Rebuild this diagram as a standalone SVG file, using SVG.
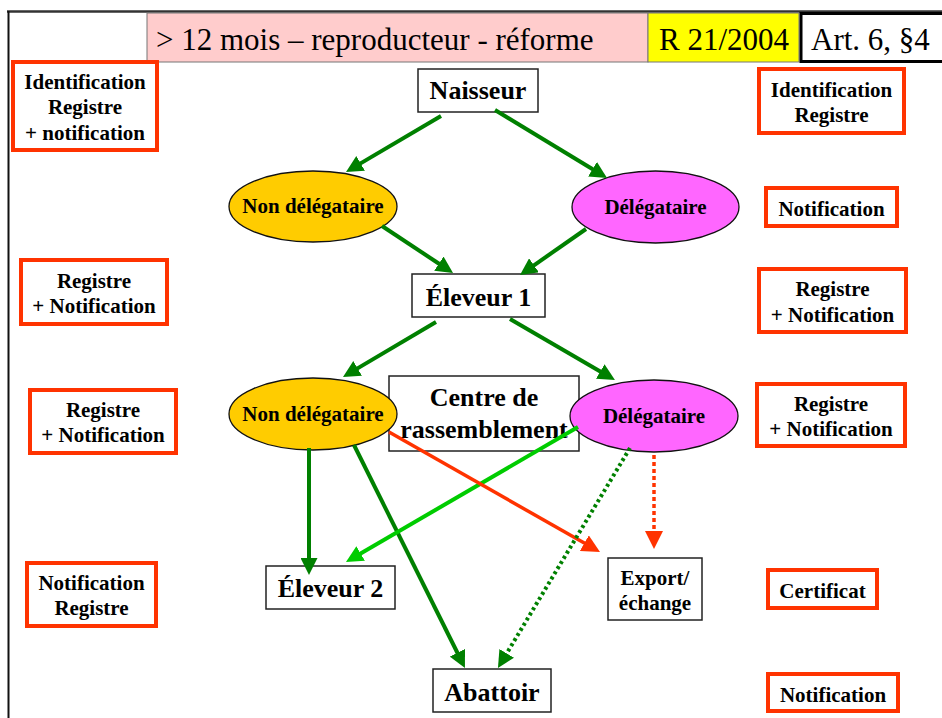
<svg xmlns="http://www.w3.org/2000/svg" width="942" height="718" viewBox="0 0 942 718">
  <style>
    text { font-family: "Liberation Serif", "Times New Roman", serif; fill: #000; text-anchor: middle; }
    .hdr { font-size: 31px; text-anchor: start; }
    .big { font-size: 26px; font-weight: bold; }
    .sm { font-size: 21px; font-weight: bold; }
    .note { fill: #fff; stroke: #ff3300; stroke-width: 4; }
    .node { fill: #fff; stroke: #222; stroke-width: 1.5; }
    .ell { stroke: #111; stroke-width: 1.3; }
    .g { stroke: #008000; stroke-width: 4; fill: none; }
    .lg { stroke: #00cc00; stroke-width: 4; fill: none; }
    .r { stroke: #ff3300; stroke-width: 3.5; fill: none; }
  </style>
  <defs>
    <marker id="ah-g" markerUnits="userSpaceOnUse" markerWidth="17" markerHeight="17" refX="7" refY="8.5" orient="auto">
      <path d="M0,0 L17,8.5 L0,17 z" fill="#008000"/>
    </marker>
    <marker id="ah-lg" markerUnits="userSpaceOnUse" markerWidth="17" markerHeight="17" refX="7" refY="8.5" orient="auto">
      <path d="M0,0 L17,8.5 L0,17 z" fill="#00cc00"/>
    </marker>
    <marker id="ah-r" markerUnits="userSpaceOnUse" markerWidth="18" markerHeight="18" refX="8" refY="9" orient="auto">
      <path d="M0,0 L18,9 L0,18 z" fill="#ff3300"/>
    </marker>
  </defs>

  <rect width="942" height="718" fill="#fff"/>

  <!-- page frame -->
  <g id="frame">
    <line x1="7" y1="11.5" x2="942" y2="11.5" stroke="#333" stroke-width="2.5"/>
    <line x1="8.5" y1="11" x2="8.5" y2="718" stroke="#111" stroke-width="2"/>
  </g>

  <!-- title bar -->
  <g id="title">
    <rect x="147" y="13" width="501" height="49" fill="#ffcccc" stroke="#777" stroke-width="1"/>
    <text class="hdr" x="156" y="50">&gt; 12 mois – reproducteur - réforme</text>
  </g>
  <g id="reglement">
    <rect x="648" y="13" width="151" height="49" fill="#ffff00" stroke="#777" stroke-width="1"/>
    <text class="hdr" x="659" y="50">R 21/2004</text>
  </g>
  <g id="article">
    <rect x="801" y="13.5" width="143" height="48" fill="#fff" stroke="#000" stroke-width="3"/>
    <text class="hdr" x="811" y="50">Art. 6, §4</text>
  </g>

  <!-- obligations, left column -->
  <g id="obl-l1">
    <rect class="note" x="13" y="62" width="144" height="88"/>
    <text class="sm" x="85" y="89">Identification</text>
    <text class="sm" x="85" y="114">Registre</text>
    <text class="sm" x="85" y="140">+ notification</text>
  </g>
  <g id="obl-l2">
    <rect class="note" x="21" y="260" width="146" height="64"/>
    <text class="sm" x="94" y="288">Registre</text>
    <text class="sm" x="94" y="313">+ Notification</text>
  </g>
  <g id="obl-l3">
    <rect class="note" x="30" y="390" width="146" height="63"/>
    <text class="sm" x="103" y="417">Registre</text>
    <text class="sm" x="103" y="442">+ Notification</text>
  </g>
  <g id="obl-l4">
    <rect class="note" x="27" y="563" width="129" height="63"/>
    <text class="sm" x="91.5" y="590">Notification</text>
    <text class="sm" x="91.5" y="615">Registre</text>
  </g>

  <!-- obligations, right column -->
  <g id="obl-r1">
    <rect class="note" x="759" y="69" width="145" height="64"/>
    <text class="sm" x="831.5" y="97">Identification</text>
    <text class="sm" x="831.5" y="122">Registre</text>
  </g>
  <g id="obl-r2">
    <rect class="note" x="766" y="188" width="131" height="38"/>
    <text class="sm" x="831.5" y="216">Notification</text>
  </g>
  <g id="obl-r3">
    <rect class="note" x="759" y="269" width="147" height="63"/>
    <text class="sm" x="832.5" y="296">Registre</text>
    <text class="sm" x="832.5" y="322">+ Notification</text>
  </g>
  <g id="obl-r4">
    <rect class="note" x="757" y="384" width="148" height="62"/>
    <text class="sm" x="831" y="411">Registre</text>
    <text class="sm" x="831" y="436">+ Notification</text>
  </g>
  <g id="obl-r5">
    <rect class="note" x="768" y="570" width="109" height="38"/>
    <text class="sm" x="822.5" y="598">Certificat</text>
  </g>
  <g id="obl-r6">
    <rect class="note" x="768" y="674" width="130" height="37"/>
    <text class="sm" x="833" y="702">Notification</text>
  </g>

  <!-- flow nodes -->
  <g id="naisseur">
    <rect class="node" x="418" y="69" width="120" height="43"/>
    <text class="big" x="478" y="99">Naisseur</text>
  </g>
  <g id="non-delegataire-1">
    <ellipse class="ell" cx="313" cy="206.5" rx="84" ry="35.5" fill="#ffcc00"/>
    <text class="sm" x="313" y="213">Non délégataire</text>
  </g>
  <g id="delegataire-1">
    <ellipse class="ell" cx="655.5" cy="207" rx="83.5" ry="36" fill="#ff66ff"/>
    <text class="sm" x="655.5" y="214">Délégataire</text>
  </g>
  <g id="eleveur-1">
    <rect class="node" x="412" y="274" width="133" height="43"/>
    <text class="big" x="478.5" y="306">Éleveur 1</text>
  </g>
  <g id="centre-rassemblement">
    <rect class="node" x="389" y="376" width="190" height="75"/>
    <text class="big" x="484" y="406">Centre de</text>
    <text class="big" x="484" y="438">rassemblement</text>
  </g>
  <g id="non-delegataire-2">
    <ellipse class="ell" cx="313" cy="414" rx="84" ry="36" fill="#ffcc00"/>
    <text class="sm" x="313" y="421">Non délégataire</text>
  </g>
  <g id="delegataire-2">
    <ellipse class="ell" cx="654" cy="416" rx="84" ry="36" fill="#ff66ff"/>
    <text class="sm" x="654" y="423">Délégataire</text>
  </g>
  <g id="eleveur-2">
    <rect class="node" x="266" y="566" width="129" height="43"/>
    <text class="big" x="330.5" y="597">Éleveur 2</text>
  </g>
  <g id="export-echange">
    <rect class="node" x="608" y="558" width="94" height="62"/>
    <text class="sm" x="655" y="585">Export/</text>
    <text class="sm" x="655" y="610">échange</text>
  </g>
  <g id="abattoir">
    <rect class="node" x="433" y="669" width="118" height="43"/>
    <text class="big" x="492" y="701">Abattoir</text>
  </g>

  <!-- connectors -->
  <g id="connectors">
    <line class="g" x1="441" y1="116" x2="354.6" y2="166.9" marker-end="url(#ah-g)"/>
    <line class="g" x1="495" y1="110" x2="598.5" y2="172.8" marker-end="url(#ah-g)"/>
    <line class="g" x1="382" y1="226" x2="444.7" y2="267.5" marker-end="url(#ah-g)"/>
    <line class="g" x1="586" y1="229" x2="528.2" y2="269.3" marker-end="url(#ah-g)"/>
    <line class="g" x1="436" y1="322" x2="351.6" y2="371.9" marker-end="url(#ah-g)"/>
    <line class="g" x1="510" y1="319" x2="606.3" y2="375" marker-end="url(#ah-g)"/>
    <line class="g" x1="309" y1="448" x2="309" y2="565" marker-end="url(#ah-g)"/>
    <line class="g" x1="354" y1="445" x2="460.5" y2="659" marker-end="url(#ah-g)"/>
    <line class="lg" x1="578" y1="427" x2="354.6" y2="557" marker-end="url(#ah-lg)"/>
    <line class="r" x1="389" y1="432" x2="591.3" y2="547.1" marker-end="url(#ah-r)"/>
    <line class="r" x1="654" y1="455" x2="654" y2="539" stroke-width="4" stroke-dasharray="4 3" marker-end="url(#ah-r)"/>
    <line class="g" x1="630" y1="448" x2="503.1" y2="659.4" stroke-width="3.5" stroke-dasharray="3 3" marker-end="url(#ah-g)"/>
  </g>
</svg>
